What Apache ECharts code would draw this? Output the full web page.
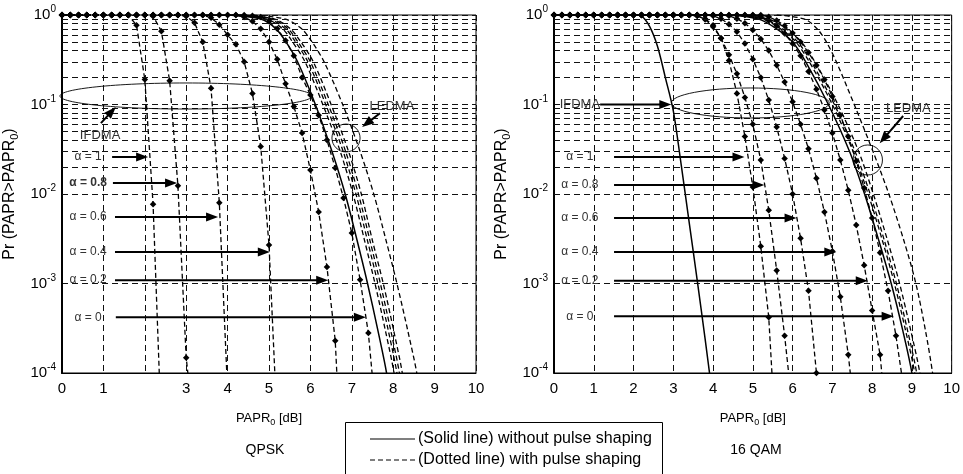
<!DOCTYPE html>
<html><head><meta charset="utf-8">
<script src="https://cdn.jsdelivr.net/npm/echarts@6/dist/echarts.min.js"></script>
<style>html,body{margin:0;padding:0;background:#fff}#c{width:963px;height:474px}</style>
</head><body><div id="c"></div>
<script>
// ---------------- DATA ----------------
const PAPR_STEPS = [0,0.2,0.4,0.6,0.8,1,1.2,1.4,1.6,1.8,2,2.2,2.4,2.6,2.8,3,3.2,3.4,3.6,3.8,4,4.2,4.4,4.6,4.8,5,5.2,5.4,5.6,5.8,6,6.2,6.4,6.6,6.8,7,7.2,7.4,7.6,7.8,8,8.2,8.4,8.6,8.8,9,9.2,9.4,9.6,9.8,10];
const qpskXTickLabels = ['0','1','','3','4','5','6','7','8','9','10'];
const qamXTickLabels  = ['0','1','2','3','4','5','6','7','8','9','10'];
const minorYValues = [2e-4,3e-4,4e-4,5e-4,6e-4,7e-4,8e-4,9e-4,2e-3,3e-3,4e-3,5e-3,6e-3,7e-3,8e-3,9e-3,0.02,0.03,0.04,0.05,0.06,0.07,0.08,0.09,0.2,0.3,0.4,0.5,0.6,0.7,0.8,0.9];

// IFDMA with pulse shaping (markers every 0.2 dB, starting at 0 dB) - QPSK
const qpskIfdmaA1  = [1,1,1,1,1,1,1,1,1,0.77,0.19,0.0077,2.3e-5];
const qpskIfdmaA08 = [1,1,1,1,1,1,1,1,1,1,1,0.97,0.66,0.184,0.0124,1.48e-4,2.1e-5];
const qpskIfdmaA06 = [1,1,1,1,1,1,1,1,1,1,1,1,1,1,1,0.97,0.82,0.5,0.152,0.008,6.2e-5];
const qpskIfdmaA04 = [1,1,1,1,1,1,1,1,1,1,1,1,1,1,1,1,1,1,0.93,0.78,0.6,0.47,0.3,0.133,0.034,0.0027,2.5e-5];
const qpskIfdmaA02 = [1,1,1,1,1,1,1,1,1,1,1,1,1,1,1,1,1,1,1,1,1,1,0.95,0.85,0.7,0.5,0.32,0.17,0.095,0.048,0.0185,0.0063,0.00153,2.3e-4,3e-6];
const qpskIfdmaA0  = [1,1,1,1,1,1,1,1,1,1,1,1,1,1,1,1,1,1,1,1,1,1,1,0.98,0.95,0.85,0.7,0.52,0.35,0.2,0.128,0.076,0.04,0.0195,0.009,0.00367,0.0011,2.8e-4,2.8e-5];
// IFDMA with pulse shaping - 16 QAM
const qamIfdmaA1  = [1,1,1,1,1,1,1,1,1,1,1,1,1,1,1,1,1,1,0.98,0.91,0.77,0.55,0.31,0.133,0.044,0.012,0.0026,4.2e-4,1.2e-5];
const qamIfdmaA08 = [1,1,1,1,1,1,1,1,1,1,1,1,1,1,1,1,1,1,0.98,0.89,0.74,0.55,0.36,0.22,0.12,0.06,0.024,0.0066,0.0014,2.6e-4,3.9e-5];
const qamIfdmaA06 = [1,1,1,1,1,1,1,1,1,1,1,1,1,1,1,1,1,1,1,1,0.98,0.91,0.79,0.65,0.48,0.32,0.2,0.112,0.056,0.025,0.01,0.0032,8.3e-4,1e-4,8e-6];
const qamIfdmaA04 = [1,1,1,1,1,1,1,1,1,1,1,1,1,1,1,1,1,1,1,1,1,1,0.98,0.91,0.81,0.68,0.54,0.4,0.275,0.178,0.107,0.06,0.032,0.015,0.0063,0.0023,7.1e-4,1.6e-4,2.5e-5];
const qamIfdmaA02 = [1,1,1,1,1,1,1,1,1,1,1,1,1,1,1,1,1,1,1,1,1,1,1,1,1,1,0.955,0.87,0.76,0.62,0.48,0.35,0.234,0.148,0.087,0.048,0.024,0.011,0.0045,0.0016,5e-4,1.6e-4,1.8e-5];
const qamIfdmaA0  = [1,1,1,1,1,1,1,1,1,1,1,1,1,1,1,1,1,1,1,1,1,1,1,1,1,1,1,0.955,0.87,0.76,0.63,0.5,0.38,0.275,0.19,0.123,0.076,0.044,0.0234,0.0117,0.0054,0.0022,8.3e-4,2.6e-4,6.5e-5];

// IFDMA without pulse shaping (solid)
const qpskIfdmaSolidX = [0,0];
const qpskIfdmaSolidY = [1,1e-5];
const qamIfdmaSolidX = [0,2.0,2.2,2.4,2.6,2.8,3.0,3.2,3.4,3.6,3.8,4.0];
const qamIfdmaSolidY = [1,1,0.97,0.75,0.45,0.2,0.085,0.021,0.0048,0.0011,2.4e-4,4.9e-5];

// LFDMA curves: PAPR0 [dB] read at these probability levels
const lfdmaLevels = [1,0.9,0.7,0.5,0.3,0.1,0.03,0.01,0.003,0.001,3e-4,1e-4,3e-5];
const qpskLfdmaSolidX = [4.0,4.8,5.17,5.41,5.69,6.12,6.52,6.84,7.13,7.38,7.63,7.84,8.0];
const qpskLfdmaDash1X = [4.1,4.95,5.33,5.57,5.87,6.3,6.72,7.03,7.31,7.56,7.81,8.02,8.17];
const qpskLfdmaDash2X = [4.2,5.02,5.4,5.64,5.94,6.37,6.79,7.1,7.38,7.63,7.88,8.09,8.24];
const qpskLfdmaDash3X = [4.25,5.08,5.46,5.7,6.0,6.43,6.85,7.16,7.44,7.69,7.94,8.15,8.3];
const qpskLfdmaDash4X = [4.3,5.14,5.52,5.77,6.07,6.5,6.92,7.23,7.5,7.76,8.01,8.22,8.37];
const qpskLfdmaDash5X = [4.6,5.4,5.79,6.04,6.33,6.78,7.2,7.53,7.83,8.09,8.35,8.57,8.74];
const qamLfdmaSolidX = [4.4,5.15,5.6,6.0,6.33,6.9,7.43,7.81,8.17,8.48,8.77,9.0,9.15];
const qamLfdmaDash1X = [4.5,5.25,5.7,6.08,6.42,7.0,7.52,7.9,8.26,8.56,8.84,9.07,9.22];
const qamLfdmaDash2X = [4.6,5.3,5.75,6.13,6.47,7.05,7.57,7.95,8.31,8.61,8.89,9.12,9.27];
const qamLfdmaDash3X = [4.65,5.4,5.85,6.22,6.56,7.14,7.66,8.03,8.39,8.69,8.97,9.2,9.35];
const qamLfdmaDash5X = [5.6,6.3,6.62,6.85,7.1,7.55,8.02,8.42,8.8,9.1,9.34,9.52,9.66];

// ---------------- CHART ----------------
const FONT = '"Liberation Sans", Arial, Helvetica, sans-serif';
const INK = '#000';
const chart = echarts.init(document.getElementById('c'), null, {renderer: 'canvas'});

function stepPairs(ys) { return ys.map((y, i) => [PAPR_STEPS[i], y]); }
function pairs(xs, ys) { return xs.map((x, i) => [x, ys[i]]); }

function markedSeries(ys, gi) {
  return {type: 'line', xAxisIndex: gi, yAxisIndex: gi, data: stepPairs(ys),
    symbol: 'diamond', symbolSize: 6.5, showSymbol: true, silent: true, clip: true,
    itemStyle: {color: INK}, lineStyle: {color: INK, width: 1.3, type: [5, 3]}};
}
function curveSeries(xs, ys, gi, dashed) {
  return {type: 'line', xAxisIndex: gi, yAxisIndex: gi, data: pairs(xs, ys),
    symbol: 'none', smooth: 0.3, silent: true, clip: true,
    lineStyle: {color: INK, width: dashed ? 1.3 : 1.5, type: dashed ? [5, 3] : 'solid'}};
}
function minorGridSeries(gi) {
  return {type: 'line', xAxisIndex: gi, yAxisIndex: gi, data: [], silent: true,
    markLine: {silent: true, symbol: ['none', 'none'], label: {show: false}, animation: false,
      lineStyle: {color: '#111', type: [6, 4], width: 1},
      data: minorYValues.map(v => ({yAxis: v}))}};
}

function xAxisCfg(gi, labels) {
  return {type: 'value', gridIndex: gi, min: 0, max: 10, interval: 1,
    axisLine: {show: true, onZero: false, lineStyle: {color: INK, width: 1}},
    axisTick: {show: false},
    splitLine: {show: true, lineStyle: {color: '#111', type: [6, 4], width: 1}},
    axisLabel: {color: INK, fontSize: 15, fontFamily: FONT, margin: 8,
      formatter: v => labels[Math.round(v)]},
    name: 'PAPR{sub|0} [dB]', nameLocation: 'middle', nameGap: 37,
    nameTextStyle: {color: INK, fontSize: 13, fontFamily: FONT,
      rich: {sub: {fontSize: 9, fontFamily: FONT, color: INK, padding: [8, 0, 0, 0]}}}};
}
function yAxisCfg(gi) {
  return {type: 'log', logBase: 10, gridIndex: gi, min: 1e-4, max: 1,
    axisLine: {show: true, lineStyle: {color: INK, width: 2}},
    axisTick: {show: false},
    splitLine: {show: true, lineStyle: {color: '#111', type: [6, 4], width: 1}},
    axisLabel: {margin: 6, color: INK,
      formatter: v => '{b|10}{s|' + Math.round(Math.log10(v)) + '}',
      rich: {b: {fontSize: 15, fontFamily: FONT, color: INK},
             s: {fontSize: 10, fontFamily: FONT, color: INK, padding: [0, 0, 11, 0]}}},
    name: 'Pr (PAPR>PAPR{sub|0})', nameLocation: 'middle', nameGap: 42,
    nameTextStyle: {color: INK, fontSize: 16, fontFamily: FONT,
      rich: {sub: {fontSize: 11, fontFamily: FONT, color: INK, padding: [9, 0, 0, 0]}}}};
}

const option = {
  animation: false,
  backgroundColor: '#fff',
  grid: [
    {left: 62, top: 15, width: 414, height: 358, show: true, borderColor: INK, borderWidth: 1, backgroundColor: 'transparent'},
    {left: 554, top: 15, width: 403, height: 358, show: true, borderColor: INK, borderWidth: 1, backgroundColor: 'transparent'}
  ],
  xAxis: [xAxisCfg(0, qpskXTickLabels), xAxisCfg(1, qamXTickLabels)],
  yAxis: [yAxisCfg(0), yAxisCfg(1)],
  series: [
    minorGridSeries(0), minorGridSeries(1),
    curveSeries(qpskIfdmaSolidX, qpskIfdmaSolidY, 0, false),
    curveSeries(qpskLfdmaSolidX, lfdmaLevels, 0, false),
    curveSeries(qpskLfdmaDash1X, lfdmaLevels, 0, true),
    curveSeries(qpskLfdmaDash2X, lfdmaLevels, 0, true),
    curveSeries(qpskLfdmaDash3X, lfdmaLevels, 0, true),
    curveSeries(qpskLfdmaDash4X, lfdmaLevels, 0, true),
    curveSeries(qpskLfdmaDash5X, lfdmaLevels, 0, true),
    markedSeries(qpskIfdmaA1, 0), markedSeries(qpskIfdmaA08, 0), markedSeries(qpskIfdmaA06, 0),
    markedSeries(qpskIfdmaA04, 0), markedSeries(qpskIfdmaA02, 0), markedSeries(qpskIfdmaA0, 0),
    curveSeries(qamIfdmaSolidX, qamIfdmaSolidY, 1, false),
    curveSeries(qamLfdmaSolidX, lfdmaLevels, 1, false),
    curveSeries(qamLfdmaDash1X, lfdmaLevels, 1, true),
    curveSeries(qamLfdmaDash2X, lfdmaLevels, 1, true),
    curveSeries(qamLfdmaDash3X, lfdmaLevels, 1, true),
    curveSeries(qamLfdmaDash5X, lfdmaLevels, 1, true),
    markedSeries(qamIfdmaA1, 1), markedSeries(qamIfdmaA08, 1), markedSeries(qamIfdmaA06, 1),
    markedSeries(qamIfdmaA04, 1), markedSeries(qamIfdmaA02, 1), markedSeries(qamIfdmaA0, 1)
  ]
};
chart.setOption(option);

// ---------------- ANNOTATIONS (placed in data coordinates) ----------------
const notes = [
  {g: 0, alpha: [
    {t: 'α = 1',   lab: 0.63, from: 1.21, to: 2.08, y: 0.0259},
    {t: 'α = 0.8', lab: 0.63, from: 1.23, to: 2.78, y: 0.0133, bold: true},
    {t: 'α = 0.6', lab: 0.63, from: 1.28, to: 3.77, y: 0.00553},
    {t: 'α = 0.4', lab: 0.63, from: 1.28, to: 5.02, y: 0.00225},
    {t: 'α = 0.2', lab: 0.63, from: 1.28, to: 6.43, y: 0.00109},
    {t: 'α = 0',   lab: 0.63, from: 1.30, to: 7.34, y: 0.00042}],
   texts: [{t: 'IFDMA', at: [0.92, 0.0456]}, {t: 'LEDMA', at: [7.97, 0.096]}],
   arrows: [{from: [0.94, 0.062], to: [1.30, 0.0938]}, {from: [7.68, 0.080], to: [7.25, 0.056]}],
   ovals: [{x: [-0.05, 6.04], y: [0.174, 0.089]}, {x: [6.52, 7.2], y: [0.0605, 0.0295]}]},
  {g: 1, alpha: [
    {t: 'α = 1',   lab: 0.65, from: 1.51, to: 4.79, y: 0.0259},
    {t: 'α = 0.8', lab: 0.65, from: 1.51, to: 5.29, y: 0.0126},
    {t: 'α = 0.6', lab: 0.65, from: 1.51, to: 6.10, y: 0.0054},
    {t: 'α = 0.4', lab: 0.65, from: 1.51, to: 7.10, y: 0.00225},
    {t: 'α = 0.2', lab: 0.65, from: 1.51, to: 7.89, y: 0.00107},
    {t: 'α = 0',   lab: 0.65, from: 1.51, to: 8.54, y: 0.00043}],
   texts: [{t: 'IFDMA', at: [0.65, 0.101]}, {t: 'LEDMA', at: [8.91, 0.091]}],
   arrows: [{from: [1.16, 0.1], to: [2.95, 0.1]}, {from: [8.78, 0.0744], to: [8.19, 0.037]}],
   ovals: [{x: [2.95, 6.92], y: [0.153, 0.0707]}, {x: [7.52, 8.26], y: [0.0353, 0.0163]}]}
];

function P(g, x, y) { return chart.convertToPixel({gridIndex: g}, [x, y]); }
function arrowEls(p1, p2) {
  const dx = p2[0] - p1[0], dy = p2[1] - p1[1], L = Math.hypot(dx, dy);
  const ux = dx / L, uy = dy / L, hl = 12, hw = 4.5;
  const bx = p2[0] - ux * hl, by = p2[1] - uy * hl;
  return [
    {type: 'line', silent: true, z: 50, shape: {x1: p1[0], y1: p1[1], x2: bx + ux * 2, y2: by + uy * 2},
     style: {stroke: INK, lineWidth: 2}},
    {type: 'polygon', silent: true, z: 50, shape: {points: [[p2[0], p2[1]], [bx - uy * hw, by + ux * hw], [bx + uy * hw, by - ux * hw]]},
     style: {fill: INK}}
  ];
}
const gfx = [];
notes.forEach(n => {
  n.alpha.forEach(a => {
    const pl = P(n.g, a.lab, a.y);
    gfx.push({type: 'text', silent: true, z: 50, x: pl[0], y: pl[1],
      style: {text: a.t, fill: '#333', font: (a.bold ? 'bold ' : '') + '12px ' + FONT, align: 'center', verticalAlign: 'middle'}});
    gfx.push(...arrowEls(P(n.g, a.from, a.y), P(n.g, a.to, a.y)));
  });
  n.texts.forEach(t => {
    const p = P(n.g, t.at[0], t.at[1]);
    gfx.push({type: 'text', silent: true, z: 50, x: p[0], y: p[1],
      style: {text: t.t, fill: '#333', font: '13px ' + FONT, align: 'center', verticalAlign: 'middle'}});
  });
  n.arrows.forEach(a => gfx.push(...arrowEls(P(n.g, a.from[0], a.from[1]), P(n.g, a.to[0], a.to[1]))));
  n.ovals.forEach(o => {
    const a = P(n.g, o.x[0], o.y[0]), b = P(n.g, o.x[1], o.y[1]);
    gfx.push({type: 'ellipse', silent: true, z: 50,
      shape: {cx: (a[0] + b[0]) / 2, cy: (a[1] + b[1]) / 2, rx: Math.abs(b[0] - a[0]) / 2, ry: Math.abs(b[1] - a[1]) / 2},
      style: {fill: 'none', stroke: INK, lineWidth: 0.9}});
  });
});

// panel titles
gfx.push({type: 'text', silent: true, x: 265, y: 450, style: {text: 'QPSK', fill: INK, font: '14px ' + FONT, align: 'center', verticalAlign: 'middle'}});
gfx.push({type: 'text', silent: true, x: 756, y: 450, style: {text: '16 QAM', fill: INK, font: '14px ' + FONT, align: 'center', verticalAlign: 'middle'}});
// legend box
gfx.push({type: 'rect', silent: true, shape: {x: 345.5, y: 422.5, width: 317, height: 60}, style: {fill: '#fff', stroke: INK, lineWidth: 1}});
gfx.push({type: 'line', silent: true, shape: {x1: 370, y1: 439, x2: 415, y2: 439}, style: {stroke: INK, lineWidth: 1.2}});
gfx.push({type: 'line', silent: true, shape: {x1: 370, y1: 460, x2: 415, y2: 460}, style: {stroke: INK, lineWidth: 1.2, lineDash: [5, 3]}});
gfx.push({type: 'text', silent: true, x: 418, y: 439, style: {text: '(Solid line) without pulse shaping', fill: INK, font: '16px ' + FONT, verticalAlign: 'middle'}});
gfx.push({type: 'text', silent: true, x: 418, y: 460, style: {text: '(Dotted line) with pulse shaping', fill: INK, font: '16px ' + FONT, verticalAlign: 'middle'}});

chart.setOption({graphic: gfx});
</script>
</body></html>
